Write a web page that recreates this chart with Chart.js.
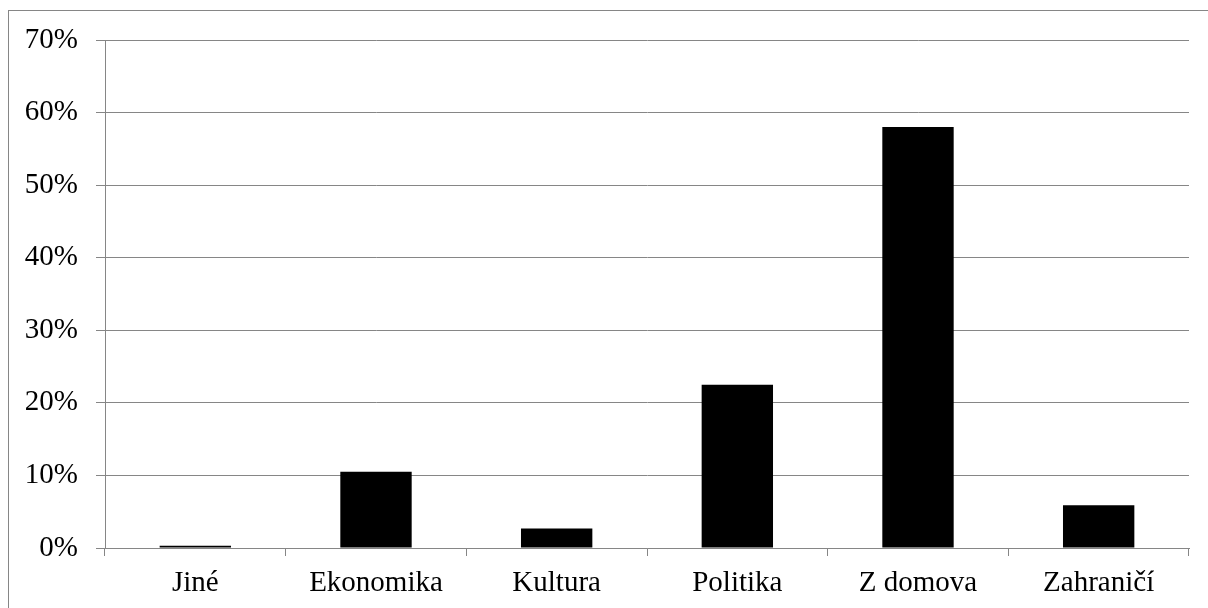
<!DOCTYPE html>
<html>
<head>
<meta charset="utf-8">
<script src="https://cdn.jsdelivr.net/npm/chart.js@4"></script>
<style>
html,body{margin:0;padding:0;background:#fff;overflow:hidden;}
#wrap{position:relative;width:1208px;height:608px;}
#frame{position:absolute;left:8px;top:10px;width:1300px;height:700px;border:1px solid #868686;pointer-events:none;box-sizing:border-box;}
canvas{position:absolute;left:0;top:0;}
</style>
</head>
<body>
<div id="wrap">
<canvas id="c" width="1208" height="608"></canvas>
<div id="frame"></div>
</div>
<script>
const categories = ["Jiné", "Ekonomika", "Kultura", "Politika", "Z domova", "Zahraničí"];
const shares = [0.3, 10.5, 2.7, 22.5, 58.0, 5.9];
const yTicks = [0, 10, 20, 30, 40, 50, 60, 70];

const FONT = {family: "'Liberation Serif', 'Times New Roman', serif", size: 29};
const GRID = '#868686';

new Chart(document.getElementById('c'), {
  type: 'bar',
  data: {
    labels: categories,
    datasets: [{
      data: shares,
      backgroundColor: '#000000',
      borderColor: '#000000',
      borderWidth: 0,
      categoryPercentage: 1,
      barPercentage: 0.395
    }]
  },
  options: {
    responsive: false,
    animation: false,
    devicePixelRatio: 1,
    layout: {padding: {left: 0, right: 19, top: 40, bottom: 0}},
    plugins: {legend: {display: false}, tooltip: {enabled: false}},
    scales: {
      x: {
        grid: {display: true, drawOnChartArea: false, drawTicks: true, tickLength: 8, color: GRID, lineWidth: 1, offset: true},
        border: {display: true, color: GRID, width: 1},
        ticks: {font: FONT, color: '#000', padding: 10, maxRotation: 0, autoSkip: false},
        afterFit: s => { s.height = 60; }
      },
      y: {
        min: 0, max: 70,
        afterBuildTicks: s => { s.ticks = yTicks.map(v => ({value: v})); },
        grid: {color: GRID, lineWidth: 1, drawTicks: true, tickLength: 9},
        border: {display: true, color: GRID, width: 1},
        ticks: {font: FONT, color: '#000', padding: 18, callback: v => v + '%'},
        afterFit: s => { s.width = 105; }
      }
    }
  }
});
</script>
</body>
</html>
